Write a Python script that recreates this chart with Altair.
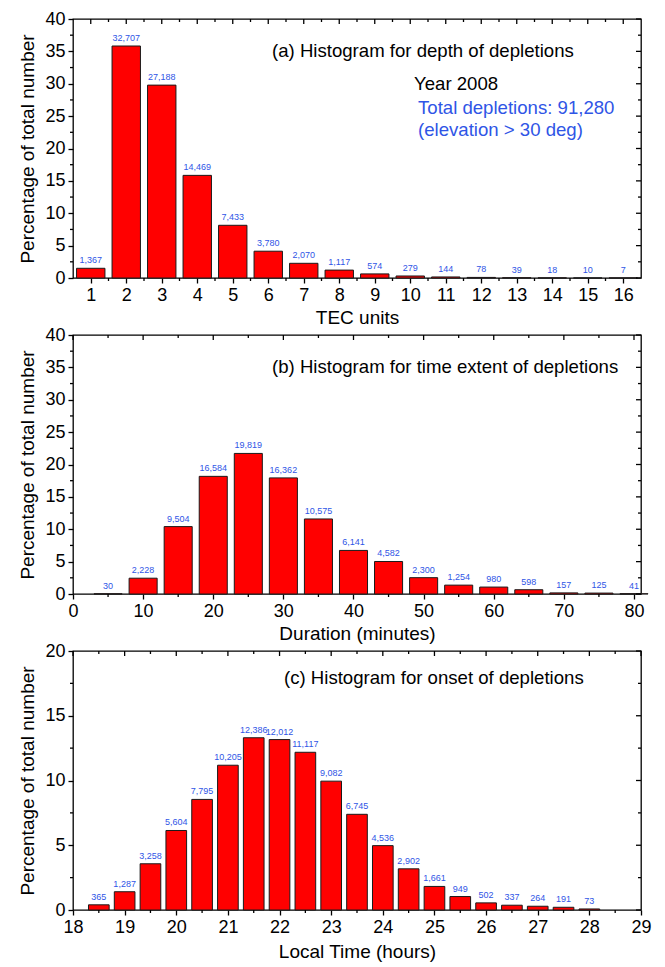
import altair as alt
import pandas as pd

# ---------------- data ----------------
# (a) depth of depletions
tec_units = [1, 2, 3, 4, 5, 6, 7, 8, 9, 10, 11, 12, 13, 14, 15, 16]
tec_pct = [1.50, 35.83, 29.79, 15.85, 8.14, 4.14, 2.27, 1.22, 0.63, 0.31, 0.16, 0.09, 0.04, 0.02, 0.01, 0.01]
tec_count = [1367, 32707, 27188, 14469, 7433, 3780, 2070, 1117, 574, 279, 144, 78, 39, 18, 10, 7]

# (b) time extent of depletions
dur_min = [5, 10, 15, 20, 25, 30, 35, 40, 45, 50, 55, 60, 65, 70, 75, 80]
dur_pct = [0.03, 2.44, 10.41, 18.17, 21.71, 17.93, 11.59, 6.73, 5.02, 2.52, 1.37, 1.07, 0.66, 0.17, 0.14, 0.04]
dur_count = [30, 2228, 9504, 16584, 19819, 16362, 10575, 6141, 4582, 2300, 1254, 980, 598, 157, 125, 41]

# (c) onset of depletions
lt_hours = [18.5, 19.0, 19.5, 20.0, 20.5, 21.0, 21.5, 22.0, 22.5, 23.0,
            23.5, 24.0, 24.5, 25.0, 25.5, 26.0, 26.5, 27.0, 27.5, 28.0]
lt_pct = [0.40, 1.41, 3.57, 6.14, 8.54, 11.18, 13.30, 13.16, 12.18, 9.95,
          7.39, 4.97, 3.18, 1.82, 1.04, 0.55, 0.37, 0.29, 0.21, 0.08]
lt_count = [365, 1287, 3258, 5604, 7795, 10205, 12386, 12012, 11117, 9082,
            6745, 4536, 2902, 1661, 949, 502, 337, 264, 191, 73]

# axis tick values
a_xmaj = [1, 2, 3, 4, 5, 6, 7, 8, 9, 10, 11, 12, 13, 14, 15, 16]
a_xmin = [1.5, 2.5, 3.5, 4.5, 5.5, 6.5, 7.5, 8.5, 9.5, 10.5, 11.5, 12.5, 13.5, 14.5, 15.5]
b_xmaj = [0, 10, 20, 30, 40, 50, 60, 70, 80]
b_xmin = [5, 15, 25, 35, 45, 55, 65, 75]
c_xmaj = [18, 19, 20, 21, 22, 23, 24, 25, 26, 27, 28, 29]
c_xmin = [18.5, 19.5, 20.5, 21.5, 22.5, 23.5, 24.5, 25.5, 26.5, 27.5, 28.5]
y40_maj = [0, 5, 10, 15, 20, 25, 30, 35, 40]
y40_min = [2.5, 7.5, 12.5, 17.5, 22.5, 27.5, 32.5, 37.5]
y20_maj = [0, 5, 10, 15, 20]
y20_min = [2.5, 7.5, 12.5, 17.5]

W, H = 568, 259
RED = "#ff0000"
BLUE = "#2f55e6"
FONT = "Liberation Sans"
LW = 1.3
NOTE_SIZE = 18.6


def panel(xs, pct, cnt, bw, xdom, xmaj, xmin_, ymax, ymaj, ymin_, xtitle,
          xtitle_pad, notes):
    df = pd.DataFrame({"x": xs, "pct": pct, "count": cnt})
    xs_ = alt.Scale(domain=xdom, nice=False, zero=False)
    ys_ = alt.Scale(domain=[0, ymax], nice=False)
    xax = alt.Axis(values=xmaj, title=xtitle, format="d", titlePadding=xtitle_pad)
    yax = alt.Axis(values=ymaj, title="Percentage of total number", format="d")
    half = bw / 2.0

    bars = alt.Chart(df).transform_calculate(
        x0=f"datum.x - {half}", x1=f"datum.x + {half}"
    ).mark_bar(color=RED, stroke="#1a1a1a", strokeWidth=1).encode(
        x=alt.X("x0:Q", scale=xs_, axis=xax),
        x2="x1:Q",
        y=alt.Y("pct:Q", scale=ys_, axis=yax),
        y2=alt.datum(0),
    )

    labels = alt.Chart(df).mark_text(
        baseline="bottom", dy=-3, fontSize=9, color=BLUE, font=FONT
    ).encode(
        x=alt.X("x:Q", scale=xs_, axis=xax),
        y=alt.Y("pct:Q", scale=ys_, axis=yax),
        text=alt.Text("count:Q", format=","),
    )

    layers = [bars, labels]

    def xrule(vals, y0, y1):
        return alt.Chart(pd.DataFrame({"v": vals})).mark_rule(
            color="black", strokeWidth=LW
        ).encode(x=alt.X("v:Q", scale=xs_, axis=xax),
                 y=alt.value(y0), y2=alt.value(y1))

    def yrule(vals, x0, x1):
        return alt.Chart(pd.DataFrame({"v": vals})).mark_rule(
            color="black", strokeWidth=LW
        ).encode(y=alt.Y("v:Q", scale=ys_, axis=yax),
                 x=alt.value(x0), x2=alt.value(x1))

    # minor outward ticks (bottom / left)
    layers.append(xrule(xmin_, H, H + 3))
    layers.append(yrule(ymin_, -3, 0))
    # mirrored inward ticks (top / right)
    layers.append(xrule(xmaj, 0, 5))
    layers.append(xrule(xmin_, 0, 3))
    layers.append(yrule(ymaj, W - 5, W))
    layers.append(yrule(ymin_, W - 3, W))

    for txt, px, py, col in notes:
        layers.append(
            alt.Chart(pd.DataFrame({"t": [txt]})).mark_text(
                align="left", baseline="middle", fontSize=NOTE_SIZE, font=FONT,
                color=col
            ).encode(x=alt.value(px), y=alt.value(py), text="t:N")
        )

    return alt.layer(*layers).properties(width=W, height=H)


pa = panel(tec_units, tec_pct, tec_count, 0.8, [0.5, 16.5], a_xmaj, a_xmin,
           40, y40_maj, y40_min, "TEC units", 4,
           [("(a) Histogram for depth of depletions", 199, 32, "black"),
            ("Year 2008", 341, 65, "black"),
            ("Total depletions:  91,280", 345, 89, BLUE),
            ("(elevation > 30 deg)", 345, 111, BLUE)])

pb = panel(dur_min, dur_pct, dur_count, 4, [0, 81], b_xmaj, b_xmin,
           40, y40_maj, y40_min, "Duration (minutes)", 4,
           [("(b) Histogram for time extent of depletions", 199, 32, "black")])

pc = panel(lt_hours, lt_pct, lt_count, 0.4, [18, 29], c_xmaj, c_xmin,
           20, y20_maj, y20_min, "Local Time (hours)", 6,
           [("(c) Histogram for onset of depletions", 211, 27, "black")])

chart = alt.vconcat(pa, pb, pc, spacing=57, bounds="flush").properties(
    padding={"left": 18, "top": 9, "right": 5, "bottom": 5},
    background="white",
).configure_view(
    stroke="black", strokeWidth=LW
).configure_axis(
    labelFont=FONT, labelFontSize=18, labelColor="black",
    titleFont=FONT, titleFontSize=19, titleFontWeight="normal", titleColor="black",
    tickColor="black", tickWidth=LW, tickSize=5, domain=False, grid=False,
    labelFlush=False, labelOverlap=False,
).configure_axisX(
    labelPadding=3
).configure_axisY(
    labelPadding=3, titlePadding=7
)

chart.save("out.html", embed_options={"renderer": "svg", "actions": False})
